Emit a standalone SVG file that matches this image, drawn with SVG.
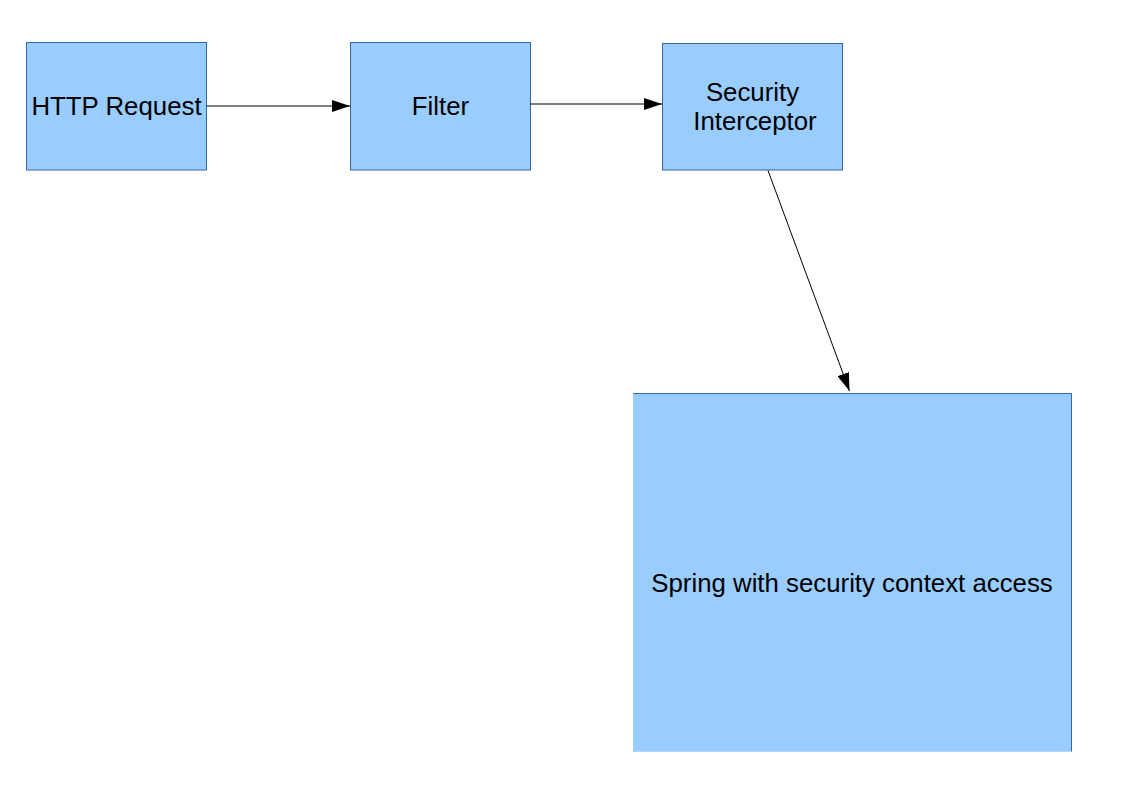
<svg xmlns="http://www.w3.org/2000/svg" width="1123" height="794" viewBox="0 0 1123 794">
<defs>
<style>
.box{fill:#99ccff;stroke:#3465a4;stroke-width:1}
.lbl{font-family:"Liberation Sans",Arial,sans-serif;font-size:25.8px;fill:#000;text-anchor:middle}
.conn{stroke:#000;stroke-width:1;fill:none}
</style>
<marker id="ah" viewBox="0 0 18 12" refX="18" refY="6" markerWidth="18" markerHeight="12" markerUnits="userSpaceOnUse" orient="auto">
<path d="M0,0 L18,6 L0,12 Z" fill="#000"/>
</marker>
</defs>
<rect width="1123" height="794" fill="#fff"/>
<g id="http-request">
<rect class="box" x="26.5" y="42.5" width="180" height="127.5"/>
<text class="lbl" x="116.5" y="115">HTTP Request</text>
</g>
<g id="filter">
<rect class="box" x="350.5" y="42.5" width="180" height="127.5"/>
<text class="lbl" x="440.5" y="115">Filter</text>
</g>
<g id="security-interceptor">
<rect class="box" x="662.5" y="43.5" width="180" height="126.5"/>
<text class="lbl" x="752.5" y="101">Security</text>
<text class="lbl" x="755" y="129.5">Interceptor</text>
</g>
<g id="spring">
<path class="box" d="M633.5,751.5 V393.5 H1071.5 V751.5"/>
<rect x="633" y="394" width="438" height="357.5" fill="#99ccff"/>
<text class="lbl" x="852" y="592">Spring with security context access</text>
</g>
<g id="connectors">
<line class="conn" x1="206.5" y1="106" x2="350" y2="106" marker-end="url(#ah)"/>
<line class="conn" x1="530.5" y1="104" x2="662" y2="104" marker-end="url(#ah)"/>
<line class="conn" x1="768" y1="170.5" x2="849.5" y2="391" marker-end="url(#ah)"/>
</g>
</svg>
